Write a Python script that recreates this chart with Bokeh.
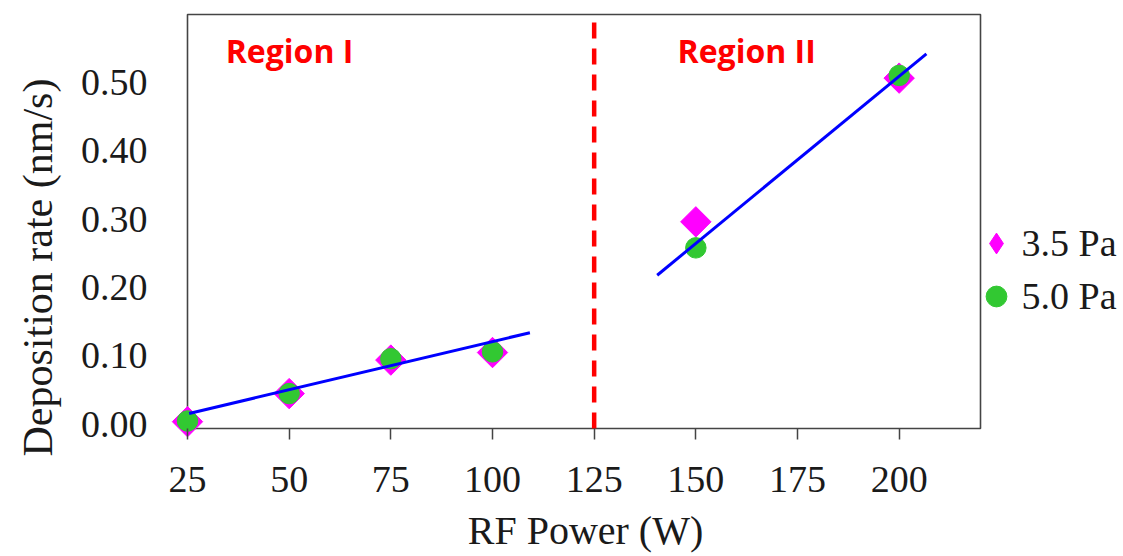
import numpy as np
from bokeh.plotting import figure
from bokeh.models import (Range1d, FixedTicker, Label, Legend, LegendItem,
                          Title, BoxAnnotation)
from bokeh.embed import file_html
from bokeh.resources import INLINE

# ---- data ----
power = [25, 50, 75, 100, 150, 200]
rate_35pa = [0.004, 0.045, 0.094, 0.105, 0.296, 0.506]
rate_50pa = [0.005, 0.045, 0.096, 0.106, 0.258, 0.510]

fit1_x = [25.4, 109.2]
fit1_y = [0.016, 0.134]
fit2_x = [140.5, 206.7]
fit2_y = [0.218, 0.5415]

divider_x = 125

x_ticks = [25, 50, 75, 100, 125, 150, 175, 200]
y_ticks = [0.0, 0.1, 0.2, 0.3, 0.4, 0.5]
y_tick_labels = ["0.00", "0.10", "0.20", "0.30", "0.40", "0.50"]

series_labels = ["3.5 Pa", "5.0 Pa"]
region_names = ["Region I", "Region II"]
x_title = "RF Power (W)"
y_title = "Deposition rate (nm/s)"

# ---- styles ----
MAGENTA = "#ff00ff"
GREEN = "#32c832"
BLUE = "#0000ff"
RED = "#ff0000"
AXIS = "#444444"
TEXT = "#1a1a1a"
SERIF = "Liberation Serif"

# axis box of the chart (data units) and its pixel geometry
X_MIN, X_MAX = 25, 220
Y_MIN, Y_MAX = -0.006, 0.599
PXX = (980 - 187) / (X_MAX - X_MIN)
PXY = (428 - 14) / (Y_MAX - Y_MIN)
# the drawing frame is a bit larger than the box, so that markers on the
# box edge and the legend at the right are not clipped
x_range = Range1d(X_MIN - 20 / PXX, X_MIN + (1123 - 187) / PXX)
y_range = Range1d(Y_MIN - 10 / PXY, Y_MAX + 4 / PXY)

p = figure(width=1123, height=556, x_range=x_range, y_range=y_range,
           output_backend="svg", toolbar_location=None,
           min_border_left=167, min_border_right=0,
           min_border_top=10, min_border_bottom=118)

p.background_fill_color = "white"
p.border_fill_color = "white"
p.outline_line_color = None
p.xgrid.visible = False
p.ygrid.visible = False

# box (spines)
p.add_layout(BoxAnnotation(left=X_MIN, right=X_MAX, bottom=Y_MIN, top=Y_MAX,
                           fill_color=None, fill_alpha=0, line_color=AXIS,
                           line_alpha=1.0, line_width=1.6, level="underlay"))

# x axis
xa = p.xaxis[0]
xa.ticker = FixedTicker(ticks=x_ticks)
xa.minor_tick_line_color = None
xa.major_tick_out = 1
xa.major_tick_in = 10
xa.major_tick_line_color = AXIS
xa.major_tick_line_width = 1.5
xa.axis_line_color = None
xa.major_label_text_font = SERIF
xa.major_label_text_font_size = "38px"
xa.major_label_text_color = TEXT
xa.major_label_standoff = 27
# pad with no-break spaces so the centred title sits under the axis box
xa.axis_label = x_title + "\u00a0" * 12
xa.axis_label_text_font = SERIF
xa.axis_label_text_font_size = "40px"
xa.axis_label_text_font_style = "normal"
xa.axis_label_text_color = TEXT
xa.axis_label_standoff = 13

# y axis
ya = p.yaxis[0]
ya.ticker = FixedTicker(ticks=y_ticks)
ya.major_label_overrides = {t: s for t, s in zip(y_ticks, y_tick_labels)}
ya.minor_tick_line_color = None
ya.major_tick_out = 0
ya.major_tick_in = 0
ya.major_tick_line_color = None
ya.axis_line_color = None
ya.major_label_text_font = SERIF
ya.major_label_text_font_size = "38px"
ya.major_label_text_color = TEXT
ya.major_label_standoff = 20

# y title (left side panel, shifted along the axis)
p.add_layout(Title(text=y_title, align="left", offset=-18, vertical_align="top",
                   standoff=29, text_font=SERIF, text_font_size="42px",
                   text_font_style="normal", text_color=TEXT), "left")

# divider
p.segment(x0=[divider_x], y0=[Y_MAX], x1=[divider_x], y1=[Y_MIN],
          line_color=RED, line_width=4.5, line_dash="16 10", line_dash_offset=18)

# markers (a diamond glyph under each square supplies the legend symbol)
r35_leg = p.scatter(power, rate_35pa, marker="diamond", size=26,
                    fill_color=MAGENTA, line_color=MAGENTA)
r35 = p.scatter(power, rate_35pa, marker="square", angle=np.pi / 4, size=21.5,
                fill_color=MAGENTA, line_color=MAGENTA)
r50 = p.scatter(power, rate_50pa, marker="circle", size=20.5,
                fill_color=GREEN, line_color=GREEN)

# fit lines
p.line(fit1_x, fit1_y, line_color=BLUE, line_width=3)
p.line(fit2_x, fit2_y, line_color=BLUE, line_width=3)

# region labels
for name, rx in zip(region_names, [34.4, 145.5]):
    p.add_layout(Label(x=rx, y=0.547, text=name, text_font="Open Sans",
                       text_font_style="bold", text_font_size="32px",
                       text_color=RED, text_baseline="alphabetic"))

# legend
legend = Legend(items=[LegendItem(label=series_labels[0], renderers=[r35_leg]),
                       LegendItem(label=series_labels[1], renderers=[r50])],
                location=(802.5, 116), orientation="vertical",
                glyph_width=52, glyph_height=52, label_standoff=-1,
                spacing=1, padding=0, margin=0,
                border_line_color=None, background_fill_alpha=0,
                label_text_font=SERIF, label_text_font_size="38px",
                label_text_color=TEXT)
p.add_layout(legend, "center")

open("out.html", "w").write(file_html(p, INLINE))
